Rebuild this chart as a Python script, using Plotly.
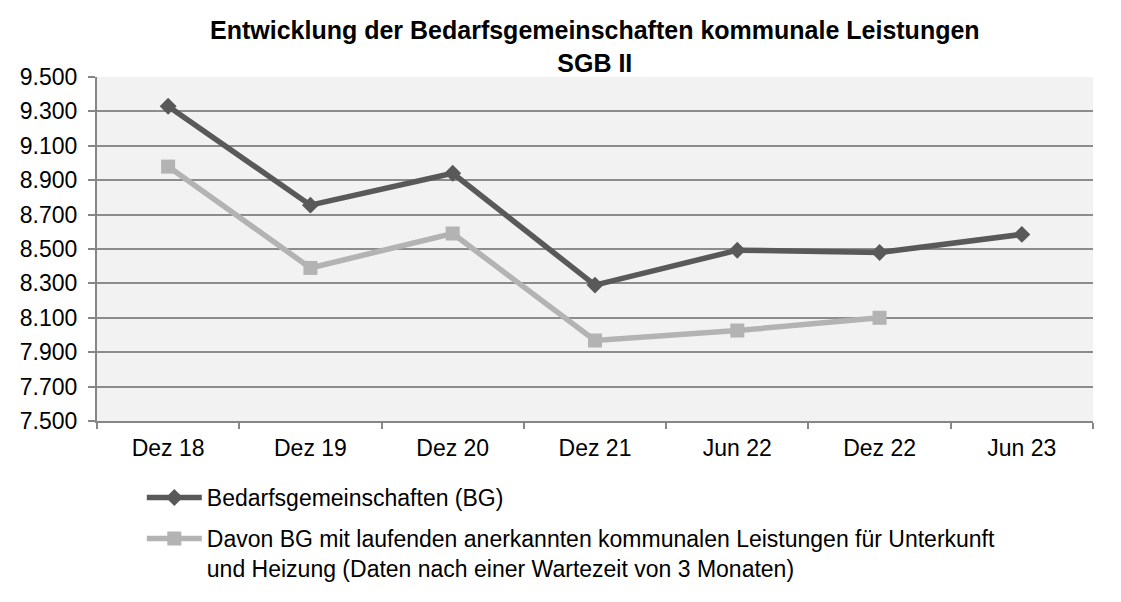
import plotly.graph_objects as go

categories = ["Dez 18", "Dez 19", "Dez 20", "Dez 21", "Jun 22", "Dez 22", "Jun 23"]
bg_values = [9330, 8755, 8940, 8290, 8493, 8480, 8585]
davon_values = [8979, 8390, 8590, 7968, 8026, 8100, None]
y_ticks = [7500, 7700, 7900, 8100, 8300, 8500, 8700, 8900, 9100, 9300, 9500]
title_lines = ["Entwicklung der Bedarfsgemeinschaften kommunale Leistungen", "SGB II"]
name_bg = "Bedarfsgemeinschaften (BG)"
name_davon = ("Davon BG mit laufenden anerkannten kommunalen Leistungen für Unterkunft<br>"
              "und Heizung (Daten nach einer Wartezeit von 3 Monaten)")

fig = go.Figure()
fig.add_trace(go.Scatter(
    x=categories, y=bg_values, mode="lines+markers", name=name_bg, legendgroup="a",
    line=dict(color="#595959", width=5.5),
    marker=dict(symbol="diamond", size=13, color="#595959"),
))
fig.add_trace(go.Scatter(
    x=categories, y=davon_values, mode="lines+markers", name=name_davon, legendgroup="b",
    line=dict(color="#b3b3b3", width=5.5),
    marker=dict(symbol="square", size=14, color="#b3b3b3"),
    connectgaps=False,
))

# body margin of the html page is ~8px; compensate in figure margins
fig.update_layout(
    width=1113, height=594,
    margin=dict(l=86, r=28, t=69, b=181),
    paper_bgcolor="white", plot_bgcolor="#f2f2f2",
    separators=",.",
    font=dict(family="Liberation Sans, Arial, sans-serif", size=23, color="black"),
    showlegend=True,
    legend=dict(
        x=0.045, xanchor="left", y=-0.16, yanchor="top",
        bgcolor="rgba(0,0,0,0)", tracegroupgap=8, itemwidth=55, valign="top",
        font=dict(size=23),
    ),
    xaxis=dict(
        type="category", showgrid=False, showline=True, linecolor="#868686", linewidth=2,
        ticks="outside", tickson="boundaries", ticklen=6, tickcolor="#868686", tickwidth=2,
        tickfont=dict(size=23), range=[-0.5, 6.5], ticklabelstandoff=5,
    ),
    yaxis=dict(
        range=[7500, 9500], tickvals=y_ticks, tickformat=",d",
        showgrid=True, gridcolor="#8c8c8c", gridwidth=2,
        showline=True, linecolor="#868686", linewidth=2,
        ticks="outside", ticklen=7, tickcolor="#868686", tickwidth=2,
        tickfont=dict(size=23), zeroline=False, ticklabelstandoff=6,
    ),
)

fig.add_annotation(
    text="<b>" + "<br>".join(title_lines) + "</b>", xref="paper", yref="paper",
    x=0.5, y=1.09, xanchor="center", yanchor="middle", showarrow=False,
    font=dict(size=25, color="black", family="Liberation Sans, Arial, sans-serif"),
)

fig.write_html("out.html")
